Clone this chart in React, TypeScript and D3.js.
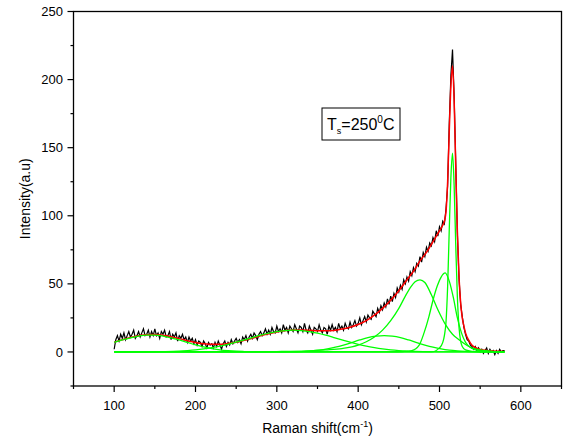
import React from "react";
import * as d3 from "d3";

// ---------- data ----------
const xMajorTicks = [100, 200, 300, 400, 500, 600];
const xMinorTicks = [50, 150, 250, 350, 450, 550, 650];
const yMajorTicks = [0, 50, 100, 150, 200, 250];
const yMinorTicks = [-25, 25, 75, 125, 175, 225];

// measured spectrum, sampled every 2 cm-1 from 100 to 580
const spectrumStart = 100;
const spectrumStep = 2;
const spectrum = [
  2, 9, 12, 8, 13, 10, 14, 9, 12, 15,
  11, 13, 16, 10, 12, 15, 11, 14, 17, 12,
  13, 16, 11, 15, 12, 17, 12, 14, 10, 15,
  13, 16, 11, 12, 15, 9, 13, 11, 14, 8,
  12, 10, 13, 9, 11, 7, 11, 8, 10, 6,
  9, 5, 8, 7, 4, 8, 6, 3, 7, 5,
  6, 3, 7, 4, 8, 5, 2, 6, 8, 4,
  7, 5, 9, 6, 8, 10, 7, 9, 6, 11,
  9, 12, 8, 11, 13, 10, 14, 12, 9, 13,
  15, 12, 14, 17, 13, 16, 13, 18, 15, 14,
  19, 15, 17, 14, 20, 16, 18, 14, 19, 17,
  15, 20, 17, 14, 19, 18, 15, 21, 16, 14,
  19, 16, 13, 18, 17, 15, 20, 16, 14, 18,
  17, 13, 19, 16, 20, 16, 18, 15, 21, 17,
  19, 16, 21, 18, 17, 22, 18, 20, 23, 19,
  21, 25, 20, 23, 26, 22, 27, 25, 24, 30,
  28, 26, 32, 29, 34, 31, 36, 33, 39, 35,
  41, 37, 43, 40, 47, 44, 49, 46, 53, 50,
  55, 52, 59, 56, 62, 59, 65, 63, 70, 66,
  73, 70, 77, 74, 80, 78, 84, 81, 89, 85,
  92, 89, 96, 94, 105, 122, 168, 203, 222, 188,
  138, 86, 54, 35, 26, 18, 13, 9, 8, 5,
  4, 2, 4, 1, 3, 0, 2, -1, 1, 3,
  -1, 2, 0, 1, -2, 1, -1, 2, 0, 1,
  1,
];

// cumulative fit (red)
const fitCurve: [number, number][] = [
  [100, 7.2], [110, 9], [120, 10.6], [130, 11.9], [140, 12.7], [150, 12.8],
  [160, 12.3], [170, 11.2], [180, 9.8], [190, 8.3], [200, 7.0], [210, 6.1],
  [220, 5.6], [230, 5.6], [240, 6.2], [250, 7.2], [260, 8.6], [270, 10.1],
  [280, 11.9], [290, 13.4], [300, 14.7], [310, 15.6], [320, 16.1], [330, 16.1],
  [340, 15.9], [350, 15.6], [360, 15.5], [370, 15.8], [380, 16.8], [390, 18.2],
  [400, 20.2], [410, 23], [420, 27], [430, 32], [440, 38], [450, 45],
  [460, 53], [470, 61], [475, 66], [480, 70], [485, 74], [490, 79],
  [495, 84], [500, 89], [504, 93], [506, 96], [508, 103], [510, 125],
  [512, 162], [514, 195], [516, 210], [518, 185], [520, 135], [522, 88],
  [524, 55], [526, 36], [528, 25], [530, 19], [532, 14], [536, 8.5],
  [540, 5], [545, 3], [550, 1.8], [560, 0.9], [570, 0.5], [580, 0.4],
];

// fitted peak components (green)
const peak140: [number, number][] = [
  [100, 7], [110, 8.8], [120, 10.4], [130, 11.7], [140, 12.4], [150, 12.4],
  [160, 11.7], [170, 10.4], [180, 8.8], [190, 7], [200, 5.2], [210, 3.7],
  [220, 2.5], [230, 1.5], [240, 0.9], [250, 0.5], [260, 0.3], [280, 0.1],
  [300, 0], [580, 0],
];
const peak320: [number, number][] = [
  [100, 0], [140, 0.1], [160, 0.25], [180, 0.6], [190, 1], [200, 1.5],
  [210, 2.2], [220, 3.1], [230, 4.2], [240, 5.6], [250, 7.2], [260, 8.9],
  [270, 10.6], [280, 12.3], [290, 13.8], [300, 15], [310, 15.7], [320, 16],
  [330, 15.7], [340, 15], [350, 13.8], [360, 12.3], [370, 10.6], [380, 8.9],
  [390, 7.2], [400, 5.6], [410, 4.2], [420, 3.1], [430, 2.2], [440, 1.5],
  [450, 1], [460, 0.64], [470, 0.4], [480, 0.24], [500, 0.08], [520, 0], [580, 0],
];
const peak432: [number, number][] = [
  [100, 0], [300, 0], [320, 0.1], [330, 0.3], [342, 0.75], [352, 1.3],
  [362, 2.2], [372, 3.5], [382, 5.1], [392, 6.9], [402, 8.8], [412, 10.5],
  [422, 11.6], [432, 12], [442, 11.6], [452, 10.5], [462, 8.8], [472, 6.9],
  [482, 5.1], [492, 3.5], [502, 2.2], [512, 1.3], [522, 0.75], [532, 0.4],
  [552, 0.1], [580, 0],
];
const peak476: [number, number][] = [
  [100, 0], [250, 0.1], [300, 0.3], [340, 0.8], [360, 1.5], [380, 2.5],
  [400, 5], [410, 7.5], [420, 11], [430, 16], [440, 23], [450, 32],
  [458, 41], [465, 48], [470, 51.5], [476, 53], [482, 51], [490, 42],
  [498, 31], [508, 19.5], [516, 13], [524, 9], [532, 5.5], [540, 3],
  [550, 1.5], [565, 0.5], [580, 0.2],
];
const peak507: [number, number][] = [
  [100, 0], [440, 0], [455, 0.3], [466, 1], [475, 5], [481, 14], [487, 26],
  [492, 38], [497, 48], [502, 55], [507, 58], [512, 52], [517, 40], [522, 25],
  [527, 14], [532, 7], [540, 2.5], [550, 0.8], [565, 0.2], [580, 0],
];
const peak516: [number, number][] = [
  [100, 0], [490, 0], [500, 3], [504, 7], [506, 12], [508, 22], [510, 48],
  [512, 90], [514, 128], [516, 146], [518, 122], [520, 78], [522, 40],
  [524, 18], [526, 8], [528, 4], [532, 1.5], [540, 0.5], [560, 0], [580, 0],
];
const components = [peak140, peak320, peak432, peak476, peak507, peak516];

// ---------- layout ----------
const W = 563;
const H = 443;
const left = 73.5;
const right = 561.5;
const top = 11.5;
const bottom = 386;

const FONT = "'Liberation Sans', Arial, sans-serif";

export default function App() {
  const x = d3.scaleLinear().domain([50, 650]).range([left, right]);
  const y = d3.scaleLinear().domain([-25, 250]).range([bottom, top]);

  const spec: [number, number][] = spectrum.map((v, i) => [
    spectrumStart + i * spectrumStep,
    v,
  ]);

  const rawLine = d3
    .line<[number, number]>()
    .x((d) => x(d[0]))
    .y((d) => y(d[1]));
  const smoothLine = d3
    .line<[number, number]>()
    .x((d) => x(d[0]))
    .y((d) => y(d[1]))
    .curve(d3.curveMonotoneX);

  return (
    <svg
      width={W}
      height={H}
      style={{ position: "absolute", left: 0, top: 0, background: "#fff" }}
      fontFamily={FONT}
    >
      <rect x={0} y={0} width={W} height={H} fill="#fff" />

      {/* data */}
      <path d={rawLine(spec) || ""} fill="none" stroke="#000" strokeWidth={1.2} strokeLinejoin="miter" />
      <path d={smoothLine(fitCurve) || ""} fill="none" stroke="#ff0000" strokeWidth={1.5} />
      {components.map((c, i) => (
        <path key={i} d={smoothLine(c) || ""} fill="none" stroke="#00ff00" strokeWidth={1.3} />
      ))}

      {/* frame */}
      <rect
        x={left}
        y={top}
        width={right - left}
        height={bottom - top}
        fill="none"
        stroke="#000"
        strokeWidth={1.3}
      />

      {/* x ticks */}
      {xMajorTicks.map((t) => (
        <g key={"xm" + t}>
          <line x1={x(t)} x2={x(t)} y1={bottom} y2={bottom + 6} stroke="#000" strokeWidth={1.2} />
          <text x={x(t)} y={410} fontSize={13} textAnchor="middle">
            {t}
          </text>
        </g>
      ))}
      {xMinorTicks.map((t) => (
        <line key={"xn" + t} x1={x(t)} x2={x(t)} y1={bottom} y2={bottom + 3} stroke="#000" strokeWidth={1.2} />
      ))}

      {/* y ticks */}
      {yMajorTicks.map((t) => (
        <g key={"ym" + t}>
          <line x1={left - 6} x2={left} y1={y(t)} y2={y(t)} stroke="#000" strokeWidth={1.2} />
          <text x={63} y={y(t)} dy="0.35em" fontSize={13} textAnchor="end">
            {t}
          </text>
        </g>
      ))}
      {yMinorTicks.map((t) => (
        <line key={"yn" + t} x1={left - 3} x2={left} y1={y(t)} y2={y(t)} stroke="#000" strokeWidth={1.2} />
      ))}

      {/* axis titles */}
      <text
        transform={`translate(25, ${(top + bottom) / 2}) rotate(-90)`}
        textAnchor="middle"
        dy="0.35em"
        fontSize={14}
      >
        Intensity(a.u)
      </text>
      <text x={(left + right) / 2} y={433} textAnchor="middle" fontSize={14}>
        Raman shift(cm
        <tspan dy={-6} fontSize={9}>-1</tspan>
        <tspan dy={6}>)</tspan>
      </text>

      {/* annotation */}
      <rect x={322} y={108} width={78} height={32} fill="#fff" stroke="#000" strokeWidth={1} />
      <text x={327} y={130} fontSize={16}>
        T<tspan dy={4} fontSize={9}>s</tspan>
        <tspan dy={-4}>=250</tspan>
        <tspan dy={-7} fontSize={10}>0</tspan>
        <tspan dy={7}>C</tspan>
      </text>
    </svg>
  );
}
